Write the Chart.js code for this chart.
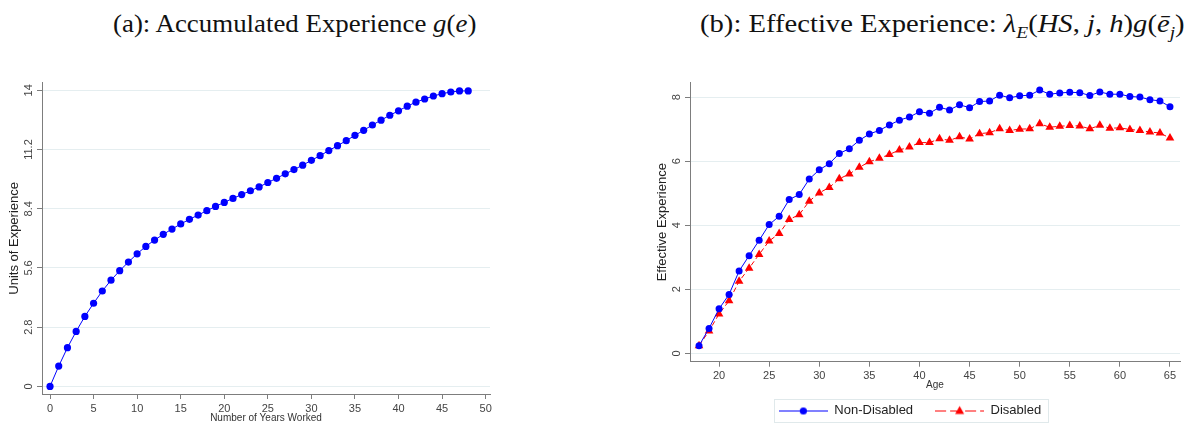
<!DOCTYPE html>
<html>
<head>
<meta charset="utf-8">
<script src="https://cdn.jsdelivr.net/npm/chart.js@4.4.1/dist/chart.umd.min.js"></script>
<style>
    html, body { margin: 0; padding: 0; background: #fff; overflow: hidden; }
    body { width: 1189px; height: 424px; position: relative; }
    .title { position: absolute; top: 12px; font-family: "Liberation Serif", "DejaVu Serif", serif; font-size: 25px; line-height: 24px; color: #111; white-space: nowrap; transform-origin: 0 50%; }
    .title sub { font-size: 17px; line-height: 0; }
    #titleA { left: 113px; transform: scaleX(1.075); }
    #titleB { left: 700px; transform: scaleX(1.145); }
    canvas { position: absolute; }
    #chartA { left: 0; top: 60px; }
    #chartB { left: 640px; top: 60px; }
</style>
</head>
<body>
<div class="title" id="titleA">(a): Accumulated Experience <i>g</i>(<i>e</i>)</div>
<div class="title" id="titleB">(b): Effective Experience: <i>λ</i><sub><i>E</i></sub>(<i>HS</i>, <i>j</i>, <i>h</i>)<i>g</i>(<i>ē</i><sub><i>j</i></sub>)</div>
<canvas id="chartA" width="500" height="364"></canvas>
<canvas id="chartB" width="549" height="367"></canvas>
<script>
// panel (a)
const yearsWorked = [0, 1, 2, 3, 4, 5, 6, 7, 8, 9, 10, 11, 12, 13, 14, 15, 16, 17, 18, 19, 20, 21, 22, 23, 24,
    25, 26, 27, 28, 29, 30, 31, 32, 33, 34, 35, 36, 37, 38, 39, 40, 41, 42, 43, 44, 45, 46, 47, 48];
const accumExp = [0, 0.96, 1.83, 2.60, 3.31, 3.93, 4.51, 5.02, 5.47, 5.88, 6.27, 6.62, 6.92, 7.19, 7.44, 7.68,
    7.90, 8.10, 8.31, 8.51, 8.70, 8.89, 9.07, 9.25, 9.43, 9.64, 9.84, 10.05, 10.25, 10.46, 10.69, 10.91,
    11.15, 11.38, 11.62, 11.87, 12.11, 12.36, 12.59, 12.82, 13.03, 13.25, 13.44, 13.59, 13.73, 13.84, 13.92,
    13.97, 13.97];
const xTicksA = [0, 5, 10, 15, 20, 25, 30, 35, 40, 45, 50];
const yTicksA = [0, 2.8, 5.6, 8.4, 11.2, 14];

// panel (b)
const ages = [18, 19, 20, 21, 22, 23, 24, 25, 26, 27, 28, 29, 30, 31, 32, 33, 34, 35, 36, 37, 38, 39, 40, 41,
    42, 43, 44, 45, 46, 47, 48, 49, 50, 51, 52, 53, 54, 55, 56, 57, 58, 59, 60, 61, 62, 63, 64, 65];
const nonDisabled = [0.24, 0.78, 1.39, 1.84, 2.57, 3.05, 3.53, 4.02, 4.28, 4.80, 4.96, 5.44, 5.73, 5.92, 6.24,
    6.39, 6.65, 6.85, 6.96, 7.13, 7.28, 7.38, 7.54, 7.50, 7.68, 7.60, 7.76, 7.67, 7.86, 7.88, 8.06, 7.98, 8.04,
    8.06, 8.22, 8.09, 8.13, 8.15, 8.14, 8.05, 8.16, 8.09, 8.09, 8.02, 8.00, 7.92, 7.88, 7.70];
const disabled = [0.24, 0.70, 1.23, 1.64, 2.25, 2.66, 3.09, 3.51, 3.74, 4.18, 4.33, 4.75, 5.01, 5.18, 5.45,
    5.60, 5.81, 5.98, 6.09, 6.21, 6.35, 6.44, 6.58, 6.58, 6.70, 6.65, 6.76, 6.69, 6.86, 6.89, 7.01, 6.96, 7.00,
    7.01, 7.17, 7.06, 7.09, 7.11, 7.10, 7.01, 7.12, 7.03, 7.04, 6.99, 6.96, 6.91, 6.88, 6.72];
const xTicksB = [20, 25, 30, 35, 40, 45, 50, 55, 60, 65];
const yTicksB = [0, 2, 4, 6, 8];
const seriesNames = ['Non-Disabled', 'Disabled'];

const sans = '"Liberation Sans", Arial, sans-serif';
const axisGray = '#7d7d7d';
const gridColor = '#e5eef0';
const tickColor = '#444';
const blue = '#0000ff';
const red = '#ff0000';

function toPoints(xs, ys) {
    return xs.map((x, i) => ({ x: x, y: ys[i] }));
}

function xAxis(min, max, tickList, height, titleText, titlePad) {
    return {
        type: 'linear', min: min, max: max,
        afterFit: s => { s.height = height; },
        afterBuildTicks: s => { s.ticks = tickList.map(v => ({ value: v })); },
        grid: { drawOnChartArea: false, tickLength: 5, tickColor: axisGray },
        border: { color: axisGray, width: 1 },
        ticks: { font: { family: sans, size: 11 }, color: tickColor, padding: 3, maxRotation: 0, callback: v => String(v) },
        title: { display: true, text: titleText, font: { family: sans, size: 10 }, color: '#333', padding: titlePad }
    };
}

function yAxis(min, max, tickList, width, titleText, titleTop, tickPad) {
    return {
        min: min, max: max,
        afterFit: s => { s.width = width; },
        afterBuildTicks: s => { s.ticks = tickList.map(v => ({ value: v })); },
        grid: { color: gridColor, tickLength: 5, tickColor: axisGray },
        border: { color: axisGray, width: 1 },
        ticks: { font: { family: sans, size: 11 }, color: tickColor, minRotation: 90, maxRotation: 90,
            crossAlign: 'center', padding: tickPad, callback: v => String(v) },
        title: { display: true, text: titleText, font: { family: sans, size: 13 }, color: '#222', padding: { top: titleTop, bottom: 0 } }
    };
}

// legend symbols: line with marker in the middle
function legendIcon(color, dashed, marker) {
    const c = document.createElement('canvas');
    c.width = 49; c.height = 14;
    const g = c.getContext('2d');
    g.strokeStyle = color; g.fillStyle = color; g.lineWidth = 1;
    if (dashed) g.setLineDash([11, 4]);
    g.beginPath(); g.moveTo(0, 7.5); g.lineTo(49, 7.5); g.stroke();
    g.setLineDash([]);
    g.beginPath();
    if (marker === 'circle') {
        g.arc(24.5, 7.5, 3.6, 0, Math.PI * 2);
    } else {
        g.moveTo(24.5, 2.5); g.lineTo(29, 10.5); g.lineTo(20, 10.5); g.closePath();
    }
    g.fill();
    return c;
}

const legendFrame = {
    id: 'legendFrame',
    afterDraw(chart) {
        const boxes = chart.legend && chart.legend.legendHitBoxes;
        if (!boxes || !boxes.length) return;
        const first = boxes[0];
        const last = boxes[boxes.length - 1];
        const ctx = chart.ctx;
        ctx.save();
        ctx.strokeStyle = '#e0e9eb';
        ctx.lineWidth = 1;
        const x0 = Math.round(first.left - 5) + 0.5;
        const y0 = Math.round(first.top - 5) + 0.5;
        const x1 = Math.round(last.left + last.width + 7) + 0.5;
        const y1 = Math.round(first.top + first.height + 5) + 0.5;
        ctx.strokeRect(x0, y0, x1 - x0, y1 - y0);
        ctx.restore();
    }
};

new Chart(document.getElementById('chartA'), {
    type: 'line',
    data: {
        datasets: [{
            data: toPoints(yearsWorked, accumExp),
            borderColor: blue, backgroundColor: blue, borderWidth: 1,
            pointRadius: 3.6, pointBorderWidth: 0, pointStyle: 'circle', tension: 0
        }]
    },
    options: {
        responsive: false, animation: false, devicePixelRatio: 1,
        layout: { padding: { top: 22.7, right: 10, bottom: 0, left: 0 } },
        plugins: { legend: { display: false }, tooltip: { enabled: false } },
        scales: {
            x: xAxis(-0.92, 50.5, xTicksA, 30, 'Number of Years Worked', { top: 0, bottom: 0 }),
            y: yAxis(-0.36, 14.36, yTicksA, 42, 'Units of Experience', 7, -2)
        }
    }
});

const iconNonDis = legendIcon(blue, false, 'circle');
const iconDis = legendIcon(red, true, 'triangle');

new Chart(document.getElementById('chartB'), {
    type: 'line',
    data: {
        datasets: [{
            label: seriesNames[0],
            data: toPoints(ages, nonDisabled),
            borderColor: blue, backgroundColor: blue, borderWidth: 1,
            pointRadius: 3.5, pointBorderWidth: 0, pointStyle: 'circle', tension: 0
        }, {
            label: seriesNames[1],
            data: toPoints(ages, disabled),
            borderColor: red, backgroundColor: red, borderWidth: 1, borderDash: [5, 3],
            pointRadius: 5, pointBorderWidth: 0, pointStyle: 'triangle', tension: 0
        }]
    },
    options: {
        responsive: false, animation: false, devicePixelRatio: 1,
        layout: { padding: { top: 22.7, right: 9, bottom: 0, left: 0 } },
        plugins: {
            tooltip: { enabled: false },
            legend: {
                position: 'bottom',
                labels: {
                    usePointStyle: true, pointStyleWidth: 49, padding: 22,
                    font: { family: sans, size: 13 }, color: '#222',
                    generateLabels: chart => chart.data.datasets.map((ds, i) => ({
                        text: ds.label,
                        pointStyle: i === 0 ? iconNonDis : iconDis,
                        fillStyle: 'rgba(0,0,0,0)', strokeStyle: 'rgba(0,0,0,0)', lineWidth: 0,
                        fontColor: '#222', hidden: false, datasetIndex: i
                    }))
                }
            }
        },
        scales: {
            x: xAxis(17.1, 66, xTicksB, 20.3, 'Age', { top: 0, bottom: -9 }),
            y: yAxis(-0.26, 8.45, yTicksB, 50, 'Effective Experience', 15, 5)
        }
    },
    plugins: [legendFrame]
});
</script>
</body>
</html>
